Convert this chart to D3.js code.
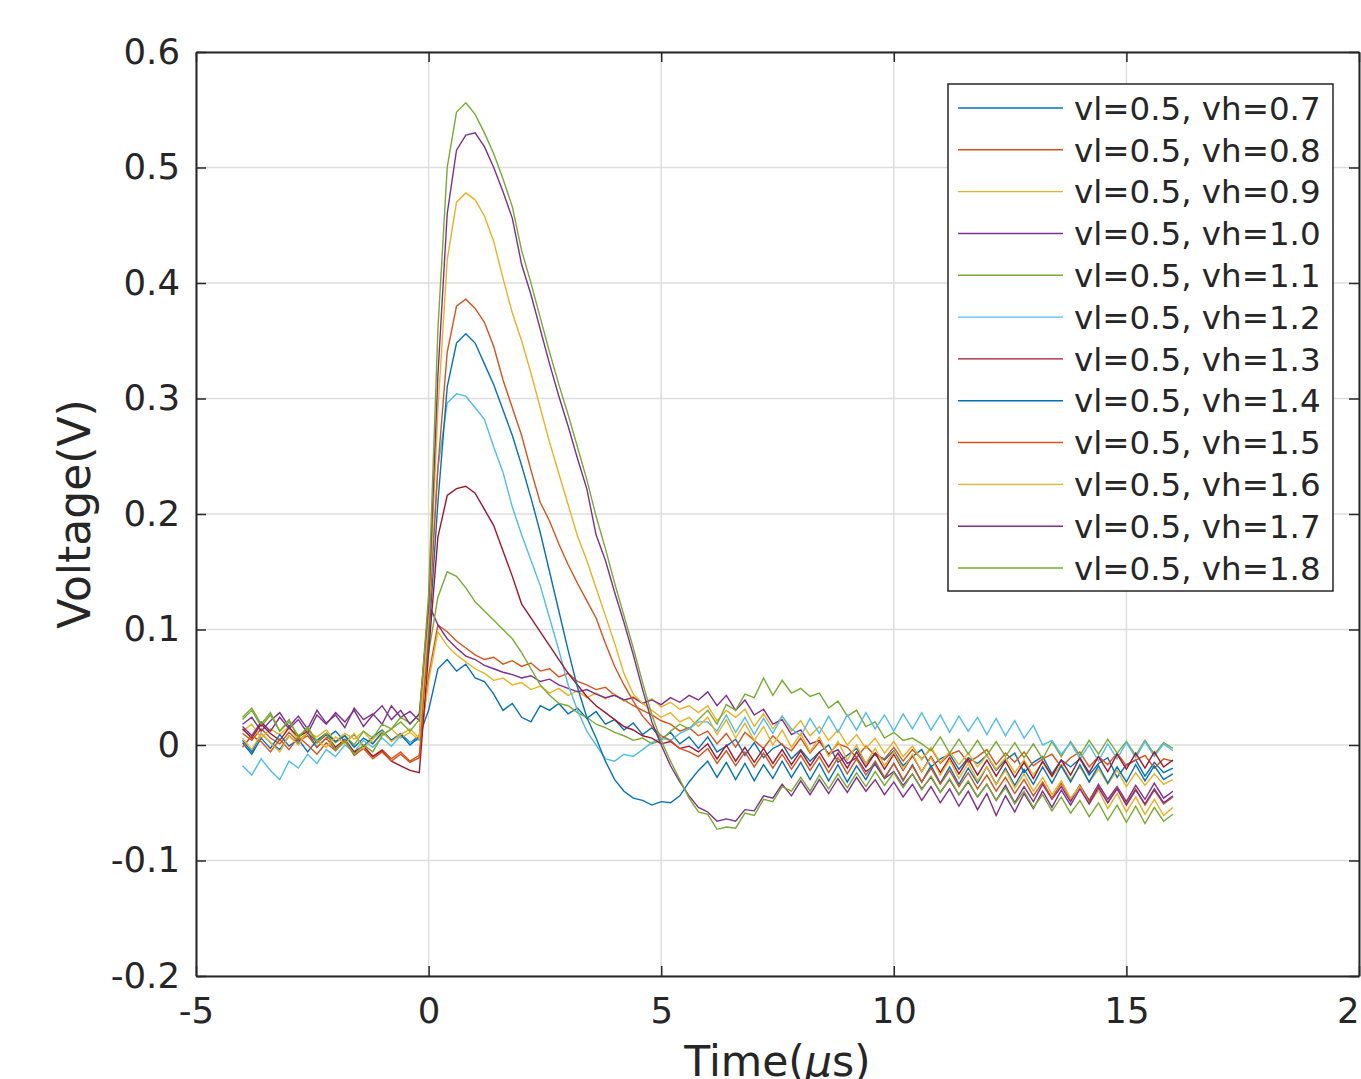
<!DOCTYPE html>
<html>
<head>
<meta charset="utf-8">
<script src="https://cdn.jsdelivr.net/npm/d3@7"></script>
<style>
  body { margin: 0; background: #fff; }
  svg { display: block; font-family: "DejaVu Sans", sans-serif; }
</style>
</head>
<body>
<div class="chart"></div>
<script>
const xTicks = [-5, 0, 5, 10, 15, 20];
const yTicks = [-0.2, -0.1, 0, 0.1, 0.2, 0.3, 0.4, 0.5, 0.6];

const seriesNames = [
  "vl=0.5, vh=0.7", "vl=0.5, vh=0.8", "vl=0.5, vh=0.9", "vl=0.5, vh=1.0",
  "vl=0.5, vh=1.1", "vl=0.5, vh=1.2", "vl=0.5, vh=1.3", "vl=0.5, vh=1.4",
  "vl=0.5, vh=1.5", "vl=0.5, vh=1.6", "vl=0.5, vh=1.7", "vl=0.5, vh=1.8"
];
const seriesColors = [
  "#0072BD", "#D95319", "#EDB120", "#7E2F8E", "#77AC30", "#4DBEEE",
  "#A2142F", "#0072BD", "#D95319", "#EDB120", "#7E2F8E", "#77AC30"
];

// sample times in microseconds, -4 .. 16 every 0.2
const timeUs = d3.range(101).map(i => +(-4 + 0.2 * i).toFixed(1));

const vh07 = [
  0.004, -0.006, 0.010, 0.002, -0.004, 0.008, 0.001, 0.011, -0.002, 0.006,
  0.012, 0.003, 0.009, -0.001, 0.007, 0.013, 0.004, 0.010, 0.002, 0.008,
  0.030, 0.066, 0.074, 0.064, 0.070, 0.058, 0.055, 0.044, 0.030, 0.036,
  0.024, 0.020, 0.034, 0.030, 0.036, 0.027, 0.032, 0.023, 0.029, 0.018,
  0.022, 0.013, 0.019, 0.009, 0.015, 0.005, 0.011, 0.001, 0.007, -0.003,
  0.007, -0.006, -0.001, 0.005, -0.009, 0.002, -0.011, -0.003, 0.001, -0.012,
  -0.004, -0.014, -0.006, 0.000, -0.015, -0.009, -0.003, -0.016, -0.007, -0.013,
  -0.005, -0.018, -0.010, -0.004, -0.019, -0.012, -0.008, -0.021, -0.011, -0.016,
  -0.009, -0.022, -0.013, -0.007, -0.024, -0.015, -0.010, -0.025, -0.013, -0.019,
  -0.012, -0.026, -0.016, -0.011, -0.028, -0.017, -0.013, -0.027, -0.015, -0.024,
  -0.020
];
const vh08 = [
  0.010, 0.004, 0.014, 0.006, 0.001, 0.011, 0.003, 0.008, -0.002, 0.006,
  -0.004, 0.003, -0.007, -0.001, -0.010, -0.004, -0.012, -0.006, -0.014, -0.009,
  0.060, 0.104, 0.098, 0.090, 0.084, 0.078, 0.074, 0.076, 0.070, 0.073,
  0.068, 0.071, 0.064, 0.066, 0.059, 0.062, 0.055, 0.052, 0.048, 0.050,
  0.043, 0.039, 0.034, 0.030, 0.026, 0.021, 0.018, 0.012, 0.015, 0.008,
  0.012, 0.001, 0.010, -0.002, 0.011, 0.004, -0.003, 0.008, 0.000, -0.005,
  0.006, -0.007, 0.003, -0.008, 0.001, -0.002, -0.011, -0.001, -0.009, -0.012,
  -0.002, -0.014, -0.004, -0.012, -0.003, -0.016, -0.008, -0.005, -0.015, -0.010,
  -0.004, -0.017, -0.007, -0.015, -0.006, -0.018, -0.012, -0.008, -0.019, -0.011,
  -0.006, -0.019, -0.010, -0.017, -0.007, -0.018, -0.013, -0.009, -0.020, -0.012,
  -0.014
];
const vh09 = [
  0.012, 0.018, 0.006, 0.014, 0.009, 0.016, 0.004, 0.011, 0.007, 0.013,
  0.003, 0.010, 0.005, 0.012, 0.002, 0.009, 0.014, 0.006, 0.011, 0.004,
  0.055, 0.098, 0.086, 0.078, 0.072, 0.066, 0.062, 0.056, 0.058, 0.052,
  0.054, 0.048, 0.051, 0.045, 0.049, 0.043, 0.047, 0.041, 0.045, 0.040,
  0.044, 0.038, 0.042, 0.036, 0.040, 0.033, 0.037, 0.031, 0.034, 0.028,
  0.034, 0.021, 0.030, 0.024, 0.031, 0.016, 0.027, 0.014, 0.025, 0.012,
  0.021, 0.008, 0.016, 0.004, 0.013, 0.000, 0.009, -0.003, 0.006, -0.007,
  0.003, -0.010, -0.001, -0.013, -0.002, -0.015, -0.006, -0.017, -0.007, -0.019,
  -0.009, -0.021, -0.011, -0.024, -0.013, -0.026, -0.015, -0.028, -0.017, -0.030,
  -0.019, -0.032, -0.021, -0.034, -0.022, -0.036, -0.024, -0.035, -0.025, -0.034,
  -0.030
];
const vh10 = [
  0.018, 0.024, 0.012, 0.021, 0.028, 0.016, 0.025, 0.014, 0.030, 0.019,
  0.026, 0.015, 0.032, 0.022, 0.027, 0.018, 0.034, 0.024, 0.029, 0.021,
  0.122, 0.104, 0.092, 0.084, 0.077, 0.074, 0.069, 0.066, 0.063, 0.061,
  0.058, 0.060, 0.055, 0.057, 0.052, 0.049, 0.046, 0.048, 0.044, 0.041,
  0.043, 0.039, 0.041, 0.036, 0.039, 0.035, 0.041, 0.037, 0.043, 0.039,
  0.046, 0.034, 0.043, 0.030, 0.039, 0.026, 0.031, 0.018, 0.022, 0.009,
  0.013, 0.001, 0.004, -0.008, -0.004, -0.016, -0.011, -0.023, -0.017, -0.029,
  -0.023, -0.035, -0.025, -0.038, -0.028, -0.041, -0.030, -0.043, -0.032, -0.045,
  -0.034, -0.048, -0.035, -0.050, -0.036, -0.049, -0.034, -0.047, -0.036, -0.049,
  -0.035, -0.048, -0.034, -0.047, -0.036, -0.049, -0.035, -0.047, -0.033, -0.046,
  -0.040
];
const vh11 = [
  0.022, 0.030, 0.016, 0.026, 0.012, 0.020, 0.008, 0.014, 0.004, 0.010,
  0.002, 0.008, 0.000, 0.012, 0.006, 0.018, 0.014, 0.024, 0.019, 0.026,
  0.080, 0.128, 0.150, 0.146, 0.136, 0.124, 0.116, 0.108, 0.100, 0.092,
  0.080, 0.066, 0.052, 0.043, 0.036, 0.034, 0.028, 0.024, 0.018, 0.015,
  0.011, 0.008, 0.004, 0.006, 0.001, 0.004, 0.012, 0.018, 0.014, 0.022,
  0.030, 0.018, 0.035, 0.030, 0.044, 0.041, 0.058, 0.043, 0.056, 0.045,
  0.049, 0.042, 0.045, 0.032, 0.038, 0.025, 0.030, 0.016, 0.020, 0.006,
  0.011, 0.004, 0.006, 0.001, -0.005, 0.007, -0.007, 0.005, -0.008, 0.004,
  -0.009, 0.003, -0.010, 0.002, -0.011, 0.001, -0.012, 0.003, -0.010, 0.003,
  -0.009, 0.004, -0.008, 0.005, -0.007, 0.003, -0.009, 0.004, -0.008, 0.002,
  -0.003
];
const vh12 = [
  -0.018, -0.026, -0.012, -0.022, -0.030, -0.014, -0.020, -0.008, -0.016, -0.004,
  -0.010, 0.000, -0.006, 0.004, -0.002, 0.006, -0.001, 0.008, 0.002, 0.005,
  0.120, 0.240, 0.296, 0.304, 0.302, 0.292, 0.282, 0.258, 0.236, 0.206,
  0.182, 0.160, 0.138, 0.110, 0.082, 0.052, 0.030, 0.012, 0.000, -0.012,
  -0.014, -0.008, -0.010, -0.004, 0.002, 0.006, 0.004, 0.010, 0.014, 0.020,
  0.020, 0.012, 0.026, 0.011, 0.024, 0.009, 0.023, 0.010, 0.025, 0.014,
  0.008, 0.023, 0.010, 0.025, 0.011, 0.026, 0.013, 0.028, 0.014, 0.026,
  0.012, 0.027, 0.014, 0.028, 0.013, 0.026, 0.011, 0.025, 0.012, 0.024,
  0.009, 0.023, 0.008, 0.021, 0.006, 0.017, 0.000, 0.004, -0.008, 0.002,
  -0.012, 0.000, -0.014, 0.001, -0.012, 0.002, -0.011, 0.003, -0.010, 0.001,
  -0.005
];
const vh13 = [
  0.014, 0.006, 0.018, 0.010, 0.004, 0.015, 0.007, 0.012, 0.002, 0.009,
  -0.002, 0.005, -0.006, -0.001, -0.010, -0.005, -0.014, -0.018, -0.022, -0.024,
  0.080, 0.180, 0.216, 0.222, 0.224, 0.218, 0.204, 0.190, 0.168, 0.146,
  0.122, 0.110, 0.098, 0.086, 0.074, 0.062, 0.052, 0.042, 0.034, 0.028,
  0.022, 0.016, 0.013, 0.008, 0.006, 0.001, 0.003, -0.003, -0.001, -0.006,
  0.001, -0.012, 0.000, -0.014, -0.002, -0.015, -0.003, -0.016, -0.004, -0.017,
  -0.005, -0.018, -0.006, -0.019, -0.007, -0.020, -0.006, -0.019, -0.007, -0.021,
  -0.008, -0.022, -0.009, -0.023, -0.010, -0.024, -0.011, -0.025, -0.012, -0.026,
  -0.013, -0.027, -0.014, -0.028, -0.015, -0.029, -0.014, -0.027, -0.013, -0.026,
  -0.011, -0.024, -0.010, -0.023, -0.008, -0.021, -0.007, -0.020, -0.006, -0.019,
  -0.013
];
const vh14 = [
  0.002, -0.008, 0.006, -0.003, 0.009, -0.001, 0.005, -0.006, 0.004, 0.010,
  0.003, 0.008, -0.002, 0.006, 0.001, 0.011, 0.004, 0.009, 0.000, 0.007,
  0.090, 0.210, 0.310, 0.348, 0.356, 0.348, 0.330, 0.312, 0.290, 0.268,
  0.242, 0.214, 0.184, 0.150, 0.116, 0.082, 0.050, 0.024, 0.006, -0.014,
  -0.030, -0.040, -0.046, -0.048, -0.052, -0.049, -0.050, -0.044, -0.032, -0.022,
  -0.014, -0.028, -0.015, -0.030, -0.016, -0.031, -0.017, -0.029, -0.014, -0.028,
  -0.015, -0.030, -0.016, -0.031, -0.017, -0.032, -0.018, -0.030, -0.015, -0.029,
  -0.016, -0.031, -0.017, -0.032, -0.018, -0.033, -0.019, -0.034, -0.020, -0.033,
  -0.019, -0.034, -0.020, -0.035, -0.021, -0.034, -0.019, -0.033, -0.018, -0.032,
  -0.017, -0.032, -0.018, -0.033, -0.019, -0.032, -0.017, -0.031, -0.018, -0.030,
  -0.025
];
const vh15 = [
  -0.002, 0.008, 0.003, -0.006, 0.005, -0.004, 0.007, 0.000, -0.008, 0.002,
  -0.005, 0.004, -0.009, -0.003, -0.012, -0.006, -0.014, -0.008, -0.015, -0.011,
  0.100, 0.240, 0.340, 0.380, 0.386, 0.378, 0.366, 0.345, 0.316, 0.292,
  0.268, 0.238, 0.210, 0.194, 0.174, 0.156, 0.140, 0.125, 0.110, 0.088,
  0.068, 0.052, 0.038, 0.025, 0.016, 0.008, 0.004, -0.003, -0.006, -0.010,
  -0.003, -0.016, -0.005, -0.018, -0.006, -0.019, -0.007, -0.020, -0.008, -0.021,
  -0.009, -0.022, -0.010, -0.024, -0.011, -0.025, -0.012, -0.026, -0.014, -0.028,
  -0.016, -0.030, -0.018, -0.032, -0.020, -0.034, -0.022, -0.036, -0.024, -0.038,
  -0.026, -0.040, -0.028, -0.042, -0.030, -0.044, -0.032, -0.046, -0.033, -0.047,
  -0.035, -0.049, -0.036, -0.050, -0.037, -0.051, -0.038, -0.052, -0.039, -0.051,
  -0.045
];
const vh16 = [
  0.006, -0.004, 0.010, 0.002, -0.006, 0.008, 0.000, 0.012, 0.004, -0.002,
  0.007, 0.001, 0.010, -0.003, 0.005, 0.012, 0.003, 0.009, 0.014, 0.006,
  0.110, 0.290, 0.420, 0.470, 0.478, 0.472, 0.458, 0.436, 0.404, 0.374,
  0.350, 0.322, 0.292, 0.262, 0.235, 0.208, 0.181, 0.160, 0.136, 0.112,
  0.088, 0.062, 0.044, 0.036, 0.030, 0.024, 0.028, 0.020, 0.024, 0.016,
  0.024, 0.009, 0.022, 0.006, 0.019, 0.004, 0.016, 0.000, 0.013, -0.002,
  0.010, -0.006, 0.007, -0.010, 0.003, -0.013, 0.000, -0.016, -0.003, -0.018,
  -0.006, -0.021, -0.008, -0.023, -0.011, -0.026, -0.013, -0.029, -0.016, -0.031,
  -0.019, -0.034, -0.022, -0.037, -0.025, -0.040, -0.028, -0.043, -0.031, -0.046,
  -0.036, -0.051, -0.039, -0.055, -0.042, -0.058, -0.045, -0.060, -0.047, -0.061,
  -0.054
];
const vh17 = [
  0.016, 0.008, 0.020, 0.012, 0.024, 0.014, 0.022, 0.010, 0.026, 0.018,
  0.028, 0.020, 0.030, 0.016, 0.026, 0.034, 0.022, 0.030, 0.018, 0.027,
  0.120, 0.320, 0.460, 0.515, 0.528, 0.530, 0.518, 0.500, 0.479, 0.456,
  0.416, 0.390, 0.360, 0.330, 0.302, 0.276, 0.248, 0.222, 0.182, 0.160,
  0.132, 0.106, 0.078, 0.048, 0.020, 0.000, -0.018, -0.032, -0.044, -0.054,
  -0.058, -0.066, -0.064, -0.066, -0.056, -0.057, -0.044, -0.046, -0.034, -0.044,
  -0.031, -0.043, -0.030, -0.042, -0.029, -0.041, -0.028, -0.040, -0.030, -0.043,
  -0.032, -0.045, -0.034, -0.048, -0.036, -0.050, -0.038, -0.053, -0.040, -0.056,
  -0.042, -0.061, -0.044, -0.058, -0.042, -0.055, -0.040, -0.054, -0.039, -0.052,
  -0.038, -0.051, -0.037, -0.050, -0.038, -0.052, -0.039, -0.051, -0.038, -0.050,
  -0.044
];
const vh18 = [
  0.024, 0.032, 0.018, 0.028, 0.012, 0.022, 0.006, 0.016, 0.002, 0.010,
  -0.004, 0.004, -0.008, 0.000, -0.006, 0.008, 0.014, 0.020, 0.012, 0.022,
  0.130, 0.360, 0.500, 0.548, 0.556, 0.546, 0.530, 0.512, 0.490, 0.466,
  0.428, 0.400, 0.370, 0.340, 0.312, 0.286, 0.258, 0.230, 0.198, 0.170,
  0.140, 0.112, 0.084, 0.054, 0.026, 0.004, -0.014, -0.030, -0.046, -0.058,
  -0.060, -0.073, -0.071, -0.072, -0.059, -0.061, -0.047, -0.049, -0.036, -0.040,
  -0.028, -0.040, -0.026, -0.038, -0.025, -0.037, -0.024, -0.036, -0.023, -0.035,
  -0.024, -0.037, -0.025, -0.039, -0.027, -0.041, -0.029, -0.043, -0.031, -0.045,
  -0.034, -0.048, -0.037, -0.051, -0.040, -0.054, -0.043, -0.057, -0.045, -0.059,
  -0.048, -0.062, -0.050, -0.065, -0.052, -0.067, -0.053, -0.068, -0.054, -0.066,
  -0.060
];

const seriesValues = [vh07, vh08, vh09, vh10, vh11, vh12, vh13, vh14, vh15, vh16, vh17, vh18];

const data = seriesNames.map((name, i) => ({
  name: name,
  color: seriesColors[i],
  points: timeUs.map((t, j) => ({t: t, v: seriesValues[i][j]}))
}));

const width = 1361;
const height = 1079;
const plot = {left: 196, right: 1359, top: 52, bottom: 976};
const ink = "#262626";

const svg = d3.select(".chart")
  .append("svg")
  .attr("width", width)
  .attr("height", height);

const x = d3.scaleLinear().domain([-5, 20]).range([plot.left, plot.right]);
const y = d3.scaleLinear().domain([-0.2, 0.6]).range([plot.bottom, plot.top]);

// grid
const grid = svg.append("g").attr("stroke", "#dedede").attr("stroke-width", 1.5);
grid.selectAll("line.vgrid")
  .data(xTicks)
  .enter()
  .append("line")
  .attr("class", "vgrid")
  .attr("x1", d => x(d)).attr("x2", d => x(d))
  .attr("y1", plot.top).attr("y2", plot.bottom);
grid.selectAll("line.hgrid")
  .data(yTicks)
  .enter()
  .append("line")
  .attr("class", "hgrid")
  .attr("x1", plot.left).attr("x2", plot.right)
  .attr("y1", d => y(d)).attr("y2", d => y(d));

// traces
svg.append("clipPath").attr("id", "plot-clip")
  .append("rect")
  .attr("x", plot.left).attr("y", plot.top)
  .attr("width", plot.right - plot.left).attr("height", plot.bottom - plot.top);

const line = d3.line().x(d => x(d.t)).y(d => y(d.v));

svg.append("g")
  .attr("clip-path", "url(#plot-clip)")
  .selectAll("path.trace")
  .data(data)
  .enter()
  .append("path")
  .attr("class", "trace")
  .attr("fill", "none")
  .attr("stroke", d => d.color)
  .attr("stroke-width", 1.4)
  .attr("d", d => line(d.points));

// axes, ticks pointing inward on all four sides
function styleAxis(g) {
  g.attr("color", ink)
    .attr("font-family", "DejaVu Sans, sans-serif")
    .attr("font-size", 35.5);
  g.select(".domain").attr("stroke-width", 2);
  g.selectAll(".tick line").attr("stroke-width", 1.5);
}

svg.append("g")
  .attr("transform", `translate(0, ${plot.bottom})`)
  .call(d3.axisBottom(x).tickValues(xTicks).tickSizeInner(-10).tickSizeOuter(0)
    .tickPadding(22).tickFormat(d => String(d)))
  .call(styleAxis);

svg.append("g")
  .attr("transform", `translate(${plot.left}, 0)`)
  .call(d3.axisLeft(y).tickValues(yTicks).tickSizeInner(-10).tickSizeOuter(0)
    .tickPadding(16).tickFormat(d => String(d)))
  .call(styleAxis);

svg.append("g")
  .attr("transform", `translate(0, ${plot.top})`)
  .call(d3.axisTop(x).tickValues(xTicks).tickSizeInner(-10).tickSizeOuter(0).tickFormat(() => ""))
  .call(styleAxis);

svg.append("g")
  .attr("transform", `translate(${plot.right}, 0)`)
  .call(d3.axisRight(y).tickValues(yTicks).tickSizeInner(-10).tickSizeOuter(0).tickFormat(() => ""))
  .call(styleAxis);

// axis labels
const xLabel = svg.append("text")
  .attr("x", (plot.left + plot.right) / 2)
  .attr("y", 1076)
  .attr("text-anchor", "middle")
  .attr("font-size", 42.5)
  .attr("fill", ink);
xLabel.append("tspan").text("Time(");
xLabel.append("tspan").attr("font-style", "italic").text("\u03bc");
xLabel.append("tspan").text("s)");

svg.append("text")
  .attr("transform", `translate(90, ${(plot.top + plot.bottom) / 2}) rotate(-90)`)
  .attr("text-anchor", "middle")
  .attr("font-size", 44)
  .attr("fill", ink)
  .text("Voltage(V)");

// legend
const legendBox = {x: 948, y: 84, w: 385, h: 507};
const rowY = d3.scalePoint().domain(seriesNames).range([legendBox.y + 24, legendBox.y + legendBox.h - 23]);

const legend = svg.append("g");
legend.append("rect")
  .attr("x", legendBox.x).attr("y", legendBox.y)
  .attr("width", legendBox.w).attr("height", legendBox.h)
  .attr("fill", "#fff")
  .attr("stroke", ink)
  .attr("stroke-width", 1.5);

const rows = legend.selectAll("g.row")
  .data(data)
  .enter()
  .append("g")
  .attr("class", "row")
  .attr("transform", d => `translate(0, ${rowY(d.name)})`);

rows.append("line")
  .attr("x1", legendBox.x + 10).attr("x2", legendBox.x + 115)
  .attr("y1", 0).attr("y2", 0)
  .attr("stroke", d => d.color)
  .attr("stroke-width", 1.4);

rows.append("text")
  .attr("x", legendBox.x + 126)
  .attr("y", 0)
  .attr("dy", "0.36em")
  .attr("font-size", 32.5)
  .attr("fill", ink)
  .text(d => d.name);
</script>
</body>
</html>
